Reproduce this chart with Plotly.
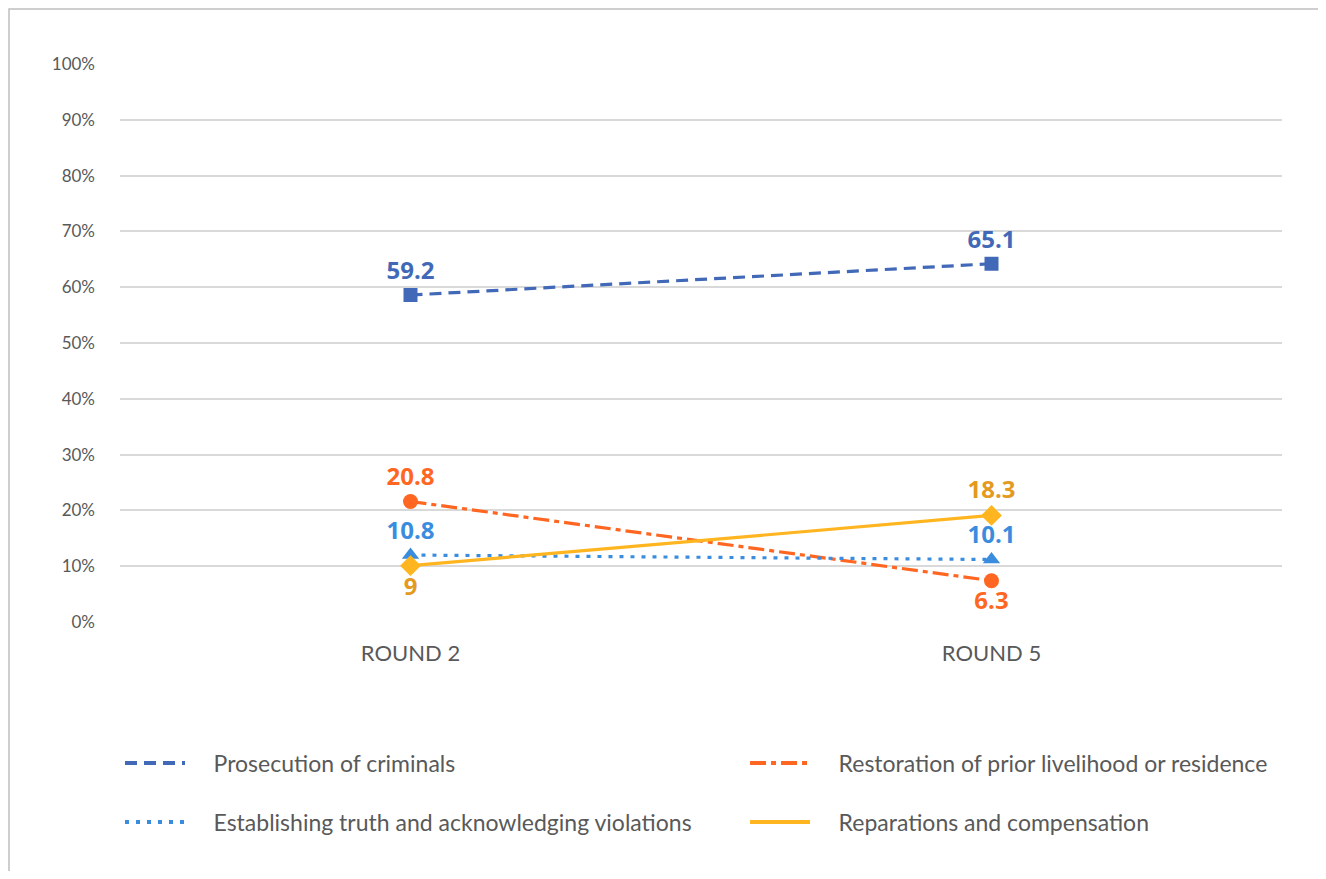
import plotly.graph_objects as go

# ---------------------------------------------------
# DATA
# ---------------------------------------------------

rounds = ["ROUND 2", "ROUND 5"]

prosecution = [58.6, 64.2]
restoration = [21.6, 7.4]
truth = [12.0, 11.2]
reparations = [10.1, 19.1]

prosecution_labels = ["59.2", "65.1"]
restoration_labels = ["20.8", "6.3"]
truth_labels = ["10.8", "10.1"]
reparations_labels = ["9", "18.3"]

y_ticks = [0, 10, 20, 30, 40, 50, 60, 70, 80, 90, 100]
y_tick_text = [f"{v}%" for v in y_ticks]

LABEL_FONT = "Open Sans"
AXIS_FONT = "Lato"
GAP = "\u00a0" * 4

fig = go.Figure()

# ---------------------------------------------------
# SERIES
# ---------------------------------------------------

series = [
    ("Prosecution of criminals", prosecution, prosecution_labels,
     "#4169B8", "#4169B8", "12px,7px", "square", 14,
     ["top center", "top center"], "legend"),
    ("Restoration of prior livelihood or residence", restoration, restoration_labels,
     "#FF6621", "#FF6621", "16px,5px,5px,5px", "circle", 15,
     ["top center", "bottom center"], "legend2"),
    ("Establishing truth and acknowledging violations", truth, truth_labels,
     "#3A8DDE", "#3A8DDE", "4px,7px", "triangle-up", 15,
     ["top center", "top center"], "legend3"),
    ("Reparations and compensation", reparations, reparations_labels,
     "#FFB520", "#E39A1E", "solid", "diamond", 16,
     ["bottom center", "top center"], "legend4"),
]

for name, vals, labels, color, label_color, dash, symbol, size, pos, leg in series:
    fig.add_trace(
        go.Scatter(
            x=rounds,
            y=vals,
            name=name,
            mode="lines+markers+text",
            text=labels,
            textposition=pos,
            textfont=dict(family=LABEL_FONT, size=24, color=label_color, weight="bold"),
            line=dict(color=color, width=3.2, dash=dash),
            marker=dict(symbol=symbol, size=size, color=color),
            showlegend=False,
            cliponaxis=False,
        )
    )
    # legend entry (line only)
    fig.add_trace(
        go.Scatter(
            x=[None],
            y=[None],
            name=GAP + name,
            mode="lines",
            line=dict(color=color, width=4, dash=dash),
            legend=leg,
        )
    )

# ---------------------------------------------------
# LAYOUT
# ---------------------------------------------------

W, H = 1310, 863

legend_style = dict(
    xanchor="left",
    yanchor="middle",
    itemwidth=60,
    font=dict(family=AXIS_FONT, size=23, color="#595959"),
    bgcolor="rgba(0,0,0,0)",
)

col1, col2 = 0.0, 0.5379
row1, row2 = -0.2527, -0.3584

fig.update_layout(
    width=W,
    height=H,
    paper_bgcolor="white",
    plot_bgcolor="white",
    margin=dict(l=112, r=36, t=56, b=249),
    showlegend=True,
    legend=dict(legend_style, x=col1, y=row1),
    legend2=dict(legend_style, x=col2, y=row1),
    legend3=dict(legend_style, x=col1, y=row2),
    legend4=dict(legend_style, x=col2, y=row2),
    shapes=[
        dict(
            type="rect", xref="paper", yref="paper",
            x0=-111 / 1162, x1=1400 / 1162,
            y0=-400 / 558, y1=(614 - 1) / 558,
            line=dict(color="#BFBFBF", width=1.5),
            fillcolor="rgba(0,0,0,0)",
            layer="below",
        )
    ],
)

fig.update_xaxes(
    range=[-0.5, 1.5],
    showgrid=False,
    showline=False,
    zeroline=False,
    ticks="",
    tickfont=dict(family=AXIS_FONT, size=22, color="#595959"),
    ticklabelstandoff=16,
)

fig.update_yaxes(
    range=[0, 100],
    tickvals=y_ticks,
    ticktext=y_tick_text,
    showgrid=True,
    gridcolor="#D9D9D9",
    gridwidth=1.5,
    zeroline=False,
    showline=False,
    ticks="",
    tickfont=dict(family=AXIS_FONT, size=17, color="#595959"),
    ticklabelstandoff=24,
)

fig.write_html("out.html")
